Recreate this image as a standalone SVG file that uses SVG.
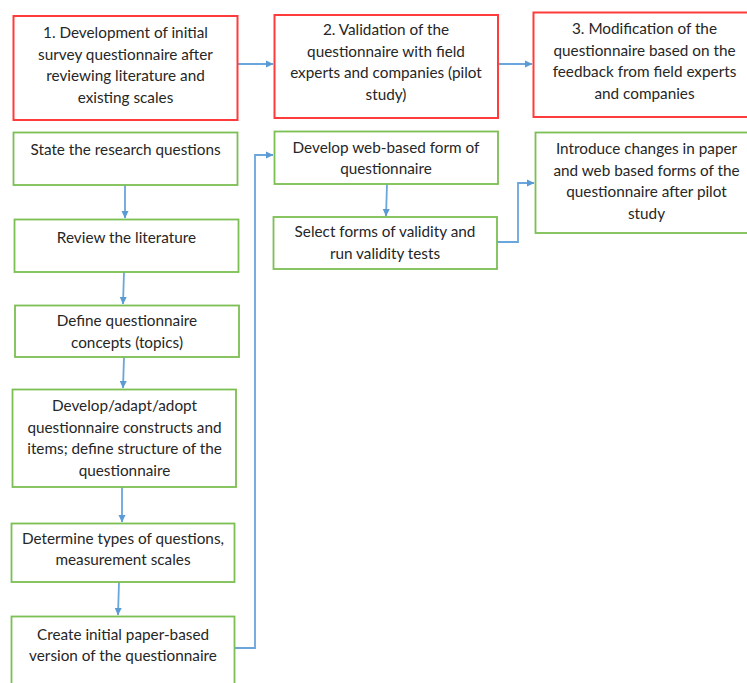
<svg xmlns="http://www.w3.org/2000/svg" width="747" height="683" viewBox="0 0 747 683">
<style>
.red{fill:#fff;stroke:#ff3b3b;stroke-width:2}
.grn{fill:#fff;stroke:#7cbf52;stroke-width:1.8}
text{font-family:Lato,"Open Sans","Liberation Sans",sans-serif;font-size:15.3px;fill:#262626;text-anchor:middle}
.con{fill:none;stroke:#6aa6dc;stroke-width:1.8}
</style>
<defs>
<marker id="ah" markerWidth="8" markerHeight="8" refX="7" refY="4" orient="auto" markerUnits="userSpaceOnUse">
<path d="M0,0.5 L7.5,4 L0,7.5 Z" fill="#5b9bd5"/>
</marker>
</defs>
<rect width="747" height="683" fill="#fff"/>
<g id="connectors">
<path class="con" d="M237,64 H273" marker-end="url(#ah)"/>
<path class="con" d="M498,64 H532" marker-end="url(#ah)"/>
<path class="con" d="M125,185 L125,218" marker-end="url(#ah)"/>
<path class="con" d="M124,272 L123,304" marker-end="url(#ah)"/>
<path class="con" d="M124,357 L123,388" marker-end="url(#ah)"/>
<path class="con" d="M122,487 L122,522" marker-end="url(#ah)"/>
<path class="con" d="M119,582 L118,615" marker-end="url(#ah)"/>
<path class="con" d="M235,648 H255 V155 H273" marker-end="url(#ah)"/>
<path class="con" d="M387,184 L386,216" marker-end="url(#ah)"/>
<path class="con" d="M497,242 H518 V183 H534" marker-end="url(#ah)"/>
</g>
<g id="n1"><rect class="red" x="13.5" y="16" width="224" height="104"/>
<text x="125.5" y="38">1. Development of initial</text>
<text x="125.5" y="59.5">survey questionnaire after</text>
<text x="125.5" y="81">reviewing literature and</text>
<text x="125.5" y="102.5">existing scales</text></g>
<g id="n2"><rect class="red" x="274.5" y="15" width="223.5" height="103"/>
<text x="386" y="35">2. Validation of the</text>
<text x="386" y="56.5">questionnaire with field</text>
<text x="386" y="78">experts and companies (pilot</text>
<text x="386" y="99.5">study)</text></g>
<g id="n3"><rect class="red" x="533.5" y="12.5" width="222" height="104.5"/>
<text x="644.5" y="33.5">3. Modification of the</text>
<text x="644.5" y="55.5">questionnaire based on the</text>
<text x="644.5" y="77">feedback from field experts</text>
<text x="644.5" y="98.5">and companies</text></g>
<g id="s1"><rect class="grn" x="13.5" y="132.5" width="224" height="52.5"/>
<text x="125.5" y="155">State the research questions</text></g>
<g id="s2"><rect class="grn" x="14.5" y="219.5" width="224" height="52.5"/>
<text x="126.5" y="243">Review the literature</text></g>
<g id="s3"><rect class="grn" x="15" y="305.5" width="224" height="51.5"/>
<text x="127" y="326">Define questionnaire</text>
<text x="127" y="347.5">concepts (topics)</text></g>
<g id="s4"><rect class="grn" x="12.5" y="389.5" width="223.5" height="97.5"/>
<text x="124.5" y="411">Develop/adapt/adopt</text>
<text x="124.5" y="432.5">questionnaire constructs and</text>
<text x="124.5" y="454">items; define structure of the</text>
<text x="124.5" y="475.5">questionnaire</text></g>
<g id="s5"><rect class="grn" x="11.5" y="523.5" width="223" height="58.5"/>
<text x="123" y="544">Determine types of questions,</text>
<text x="123" y="564.5">measurement scales</text></g>
<g id="s6"><rect class="grn" x="11.5" y="616.5" width="223" height="80"/>
<text x="123" y="640">Create initial paper-based</text>
<text x="123" y="660.5">version of the questionnaire</text></g>
<g id="w1"><rect class="grn" x="274.5" y="131.5" width="223.5" height="52.5"/>
<text x="386" y="153">Develop web-based form of</text>
<text x="386" y="174">questionnaire</text></g>
<g id="w2"><rect class="grn" x="273.5" y="217" width="223.5" height="52"/>
<text x="385" y="237">Select forms of validity and</text>
<text x="385" y="258.5">run validity tests</text></g>
<g id="w3"><rect class="grn" x="535.5" y="132.5" width="222" height="100.5"/>
<text x="646.5" y="154">Introduce changes in paper</text>
<text x="646.5" y="175.5">and web based forms of the</text>
<text x="646.5" y="197">questionnaire after pilot</text>
<text x="646.5" y="218.5">study</text></g>
</svg>
